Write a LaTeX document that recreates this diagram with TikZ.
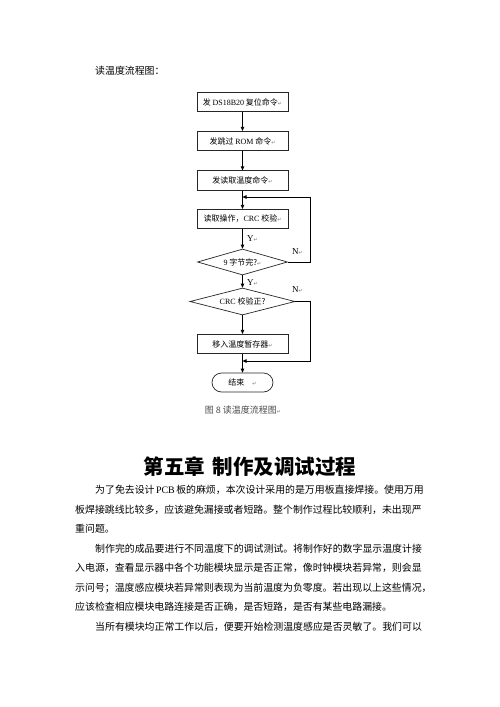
\documentclass[tikz,border=0pt]{standalone}
\usepackage{fontspec}
\setmainfont{Noto Sans CJK SC}
\newfontfamily\latf{Liberation Serif}
\newfontfamily\symf{DejaVu Sans}
\usetikzlibrary{arrows.meta,shapes.geometric}
\XeTeXlinebreaklocale "zh"
\XeTeXlinebreakskip=0pt plus 2pt
\newcommand\parmark{{\symf\fontsize{5}{5}\selectfont\color{black!55}↵}}
\newcommand\La[1]{{\latf #1}}
\newcommand\fullline[1]{\hbox to 348pt{#1}}
\newcommand\indline[1]{\hbox to 328pt{#1}}
\begin{document}
\begin{tikzpicture}[x=1pt,y=-1pt,
  box/.style={draw=black!85,line width=0.7pt,minimum width=91pt,minimum height=19.5pt,inner sep=0pt,font=\fontsize{8}{8}\selectfont},
  dia/.style={draw=black!85,line width=0.7pt,diamond,inner sep=0pt,font=\fontsize{8}{8}\selectfont},
  term/.style={draw=black!85,line width=0.7pt,rounded corners=9.5pt,minimum width=61pt,minimum height=19pt,inner sep=0pt,font=\fontsize{8}{8}\selectfont},
  arr/.style={draw=black,line width=0.7pt,-{Triangle[length=4pt,width=3.5pt]}},
  lbl/.style={inner sep=0pt,anchor=west,font=\fontsize{9}{9}\selectfont},
  body/.style={inner sep=0pt,anchor=base west,font=\fontsize{9.9}{10}\selectfont}]
\fill[white] (0,0) rectangle (500,707);
\useasboundingbox (0,0) rectangle (500,707);

\node[body] (head) at (95,74.5) {读温度流程图：};

\node[box] (b1) at (242.5,102) {发 \La{DS18B20} 复位命令\parmark};
\node[box] (b2) at (242.5,141) {发跳过 \La{ROM} 命令\parmark};
\node[box] (b3) at (242.5,180.5) {发读取温度命令\parmark};
\node[box] (b4) at (242.5,219) {读取操作，\La{CRC} 校验\parmark};
\node[dia,aspect=3.46,minimum width=90pt,minimum height=26pt] (d1) at (242.5,262) {\La{9} 字节完?\parmark};
\node[dia,aspect=3.9,minimum width=105pt,minimum height=27pt] (d2) at (242.5,301.5) {\La{CRC} 校验正?};
\node[box] (b5) at (242.5,344) {移入温度暂存器\parmark};
\node[term] (t) at (242.5,382.5) {结束\hspace{8pt}\parmark};

\coordinate (m1) at (242.5,197);
\coordinate (m2) at (242.5,361);
\coordinate (c1) at (310,197);
\coordinate (c2) at (310,361);

\draw[arr] (b1) -- (b2);
\draw[arr] (b2) -- (b3);
\draw[arr] (b3) -- (b4);
\draw[arr] (b4) -- (d1);
\draw[arr] (d1) -- (d2);
\draw[arr] (d2) -- (b5);
\draw[arr] (b5) -- (t);
\draw[arr] (d1.east) -| (c1) -- (m1);
\draw[arr] (d2.east) -| (c2) -- (m2);

\node[lbl] (y1) at (247,239) {\La{Y}\parmark};
\node[lbl] (y2) at (247,283) {\La{Y}\parmark};
\node[lbl] (n1) at (292,252) {\La{N}\parmark};
\node[lbl] (n2) at (292,290) {\La{N}\parmark};

\node[inner sep=0pt,text=black!70,font=\fontsize{9}{9}\selectfont] (cap) at (243,410) {图 8 读温度流程图\parmark};

\node[inner sep=0pt,font=\fontsize{20.5}{20.5}\selectfont\bfseries] (title) at (250,467) {第五章\hspace{8pt}制作及调试过程};

\node[body] (l1) at (95,493.8) {\indline{为了免去设计 \La{PCB} 板的麻烦，本次设计采用的是万用板直接焊接。使用万用}};
\node[body] (l2) at (75,513.3) {\fullline{板焊接跳线比较多，应该避免漏接或者短路。整个制作过程比较顺利，未出现严}};
\node[body] (l3) at (75,532.8) {重问题。};
\node[body] (l4) at (95,552.3) {\indline{制作完的成品要进行不同温度下的调试测试。将制作好的数字显示温度计接}};
\node[body] (l5) at (75,571.8) {\fullline{入电源，查看显示器中各个功能模块显示是否正常，像时钟模块若异常，则会显}};
\node[body] (l6) at (75,591.3) {\fullline{示问号；温度感应模块若异常则表现为当前温度为负零度。若出现以上这些情况，}};
\node[body] (l7) at (75,610.8) {应该检查相应模块电路连接是否正确，是否短路，是否有某些电路漏接。};
\node[body] (l8) at (95,630.3) {\indline{当所有模块均正常工作以后，便要开始检测温度感应是否灵敏了。我们可以}};
\end{tikzpicture}
\end{document}
